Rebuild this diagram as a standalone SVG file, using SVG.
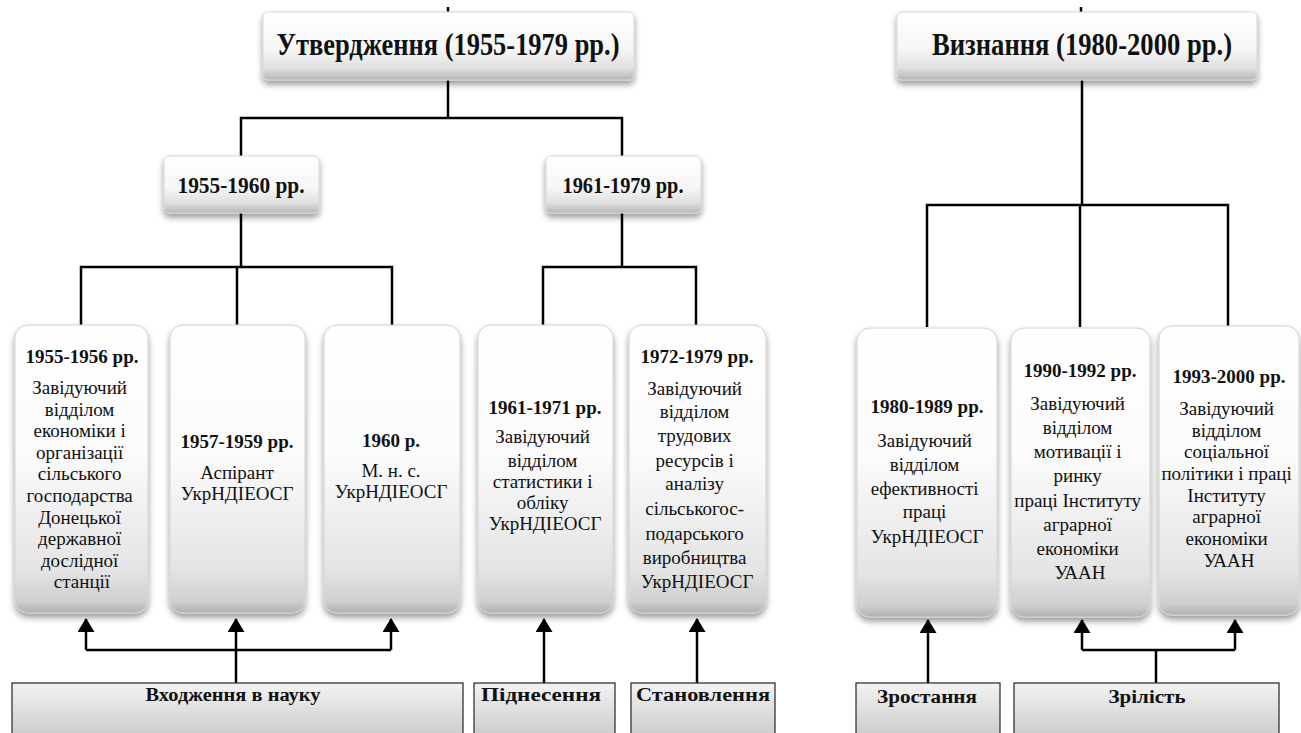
<svg xmlns="http://www.w3.org/2000/svg" width="1301" height="733" viewBox="0 0 1301 733">
<defs>
<style>
.t{font-family:"Liberation Serif","Times New Roman",serif;fill:#111;text-anchor:middle}
.b{font-weight:bold}
.r{font-size:19px}
.d{font-size:19px;font-weight:bold}
.s{font-size:18px;font-weight:bold}
.ln{stroke:#000;stroke-width:2.5;fill:none}
.ar{stroke:#000;stroke-width:2.5;fill:none;marker-end:url(#ah)}
.tall{fill:url(#gt);stroke:#d2d2d2;stroke-width:1;filter:url(#sh)}
.hd{fill:url(#gh);stroke:#d6d6d6;stroke-width:1;filter:url(#sh)}
.bot{fill:url(#gb);stroke:#333;stroke-width:1.3}
</style>
<linearGradient id="gt" x1="0" y1="0" x2="0" y2="1">
<stop offset="0" stop-color="#ffffff"/>
<stop offset="0.45" stop-color="#fbfbfb"/>
<stop offset="0.85" stop-color="#e4e4e4"/>
<stop offset="0.96" stop-color="#cfcfcf"/>
<stop offset="1" stop-color="#b0b0b0"/>
</linearGradient>
<linearGradient id="gh" x1="0" y1="0" x2="0" y2="1">
<stop offset="0" stop-color="#ffffff"/>
<stop offset="0.55" stop-color="#f6f6f6"/>
<stop offset="0.82" stop-color="#e0e0e0"/>
<stop offset="1" stop-color="#b6b6b6"/>
</linearGradient>
<linearGradient id="gb" x1="0" y1="0" x2="0" y2="1">
<stop offset="0" stop-color="#f3f3f3"/>
<stop offset="1" stop-color="#c6c6c6"/>
</linearGradient>
<filter id="sh" x="-10%" y="-10%" width="120%" height="130%">
<feDropShadow dx="0" dy="4" stdDeviation="3" flood-color="#000" flood-opacity="0.4"/>
</filter>
<marker id="ah" viewBox="0 0 14 17" refX="13" refY="8.5" markerWidth="14" markerHeight="17" markerUnits="userSpaceOnUse" orient="auto">
<path d="M0,0 L14,8.5 L0,17 z" fill="#000"/>
</marker>
</defs>

<g id="connectors">
<line class="ln" x1="448" y1="7" x2="448" y2="12" stroke-width="1.5"/>
<line class="ln" x1="1081" y1="7" x2="1081" y2="12" stroke-width="1.5"/>
<path class="ln" d="M448,80 V118 M241,156 V118 H622 V156"/>
<path class="ln" d="M241,213 V267 M81,325 V267 H392 V325 M237,267 V325"/>
<path class="ln" d="M622,213 V267 M543,325 V267 H696 V325"/>
<path class="ln" d="M1082,80 V205 M927,327 V205 H1228 V327 M1080,205 V327"/>
<path class="ln" d="M86,650 H391"/>
<line class="ar" x1="86" y1="650" x2="86" y2="619"/>
<line class="ar" x1="236" y1="683" x2="236" y2="619"/>
<line class="ar" x1="391" y1="650" x2="391" y2="619"/>
<line class="ar" x1="544" y1="683" x2="544" y2="619"/>
<line class="ar" x1="697" y1="683" x2="697" y2="619"/>
<line class="ar" x1="928" y1="683" x2="928" y2="620"/>
<path class="ln" d="M1156,683 V650 M1082,650 H1235" stroke-width="2"/>
<line class="ar" x1="1082" y1="650" x2="1082" y2="620"/>
<line class="ar" x1="1235" y1="650" x2="1235" y2="620"/>
</g>

<g id="top-left">
<rect class="hd" x="263" y="12" width="371" height="68" rx="5"/>
<text class="t b" x="448" y="55" font-size="31" textLength="343" lengthAdjust="spacingAndGlyphs">Утвердження (1955-1979 рр.)</text>
</g>
<g id="top-right">
<rect class="hd" x="897" y="12" width="360" height="68" rx="5"/>
<text class="t b" x="1082" y="55" font-size="31" textLength="300" lengthAdjust="spacingAndGlyphs">Визнання (1980-2000 рр.)</text>
</g>
<g id="mid-1">
<rect class="hd" x="164" y="156" width="155" height="57" rx="5"/>
<text class="t b" x="241" y="193" font-size="24" textLength="127" lengthAdjust="spacingAndGlyphs">1955-1960 рр.</text>
</g>
<g id="mid-2">
<rect class="hd" x="546" y="156" width="155" height="57" rx="5"/>
<text class="t b" x="623" y="193" font-size="24" textLength="121" lengthAdjust="spacingAndGlyphs">1961-1979 рр.</text>
</g>

<g id="box-1955-1956">
<rect class="tall" x="15" y="325" width="133" height="288" rx="13"/>
<text class="t d" x="82" y="363">1955-1956 рр.</text>
<text class="t r">
<tspan x="82" y="394">Завідуючий</tspan>
<tspan x="82" y="416">відділом</tspan>
<tspan x="82" y="437">економіки і</tspan>
<tspan x="82" y="459">організації</tspan>
<tspan x="82" y="480">сільського</tspan>
<tspan x="82" y="502">господарства</tspan>
<tspan x="82" y="524">Донецької</tspan>
<tspan x="82" y="545">державної</tspan>
<tspan x="82" y="567">дослідної</tspan>
<tspan x="82" y="588">станції</tspan>
</text>
</g>
<g id="box-1957-1959">
<rect class="tall" x="170" y="325" width="135" height="288" rx="13"/>
<text class="t d" x="237" y="448">1957-1959 рр.</text>
<text class="t r"><tspan x="237" y="479">Аспірант</tspan><tspan x="237" y="500">УкрНДІЕОСГ</tspan></text>
</g>
<g id="box-1960">
<rect class="tall" x="324" y="325" width="136" height="288" rx="13"/>
<text class="t d" x="391" y="447">1960 р.</text>
<text class="t r"><tspan x="391" y="477">М. н. с.</tspan><tspan x="391" y="498">УкрНДІЕОСГ</tspan></text>
</g>
<g id="box-1961-1971">
<rect class="tall" x="478" y="325" width="135" height="288" rx="13"/>
<text class="t d" x="545" y="414">1961-1971 рр.</text>
<text class="t r">
<tspan x="545" y="443">Завідуючий</tspan>
<tspan x="545" y="467">відділом</tspan>
<tspan x="545" y="488">статистики і</tspan>
<tspan x="545" y="509">обліку</tspan>
<tspan x="545" y="530">УкрНДІЕОСГ</tspan>
</text>
</g>
<g id="box-1972-1979">
<rect class="tall" x="629" y="325" width="137" height="288" rx="13"/>
<text class="t d" x="697" y="363">1972-1979 рр.</text>
<text class="t r">
<tspan x="697" y="395">Завідуючий</tspan>
<tspan x="697" y="418">відділом</tspan>
<tspan x="697" y="442">трудових</tspan>
<tspan x="697" y="467">ресурсів і</tspan>
<tspan x="697" y="490">аналізу</tspan>
<tspan x="697" y="515">сільськогос-</tspan>
<tspan x="697" y="540">подарського</tspan>
<tspan x="697" y="564">виробництва</tspan>
<tspan x="697" y="588">УкрНДІЕОСГ</tspan>
</text>
</g>
<g id="box-1980-1989">
<rect class="tall" x="857" y="328" width="140" height="289" rx="13"/>
<text class="t d" x="927" y="413">1980-1989 рр.</text>
<text class="t r">
<tspan x="927" y="447">Завідуючий</tspan>
<tspan x="927" y="471">відділом</tspan>
<tspan x="927" y="495">ефективності</tspan>
<tspan x="927" y="518">праці</tspan>
<tspan x="927" y="543">УкрНДІЕОСГ</tspan>
</text>
</g>
<g id="box-1990-1992">
<rect class="tall" x="1011" y="328" width="139" height="289" rx="13"/>
<text class="t d" x="1080" y="377">1990-1992 рр.</text>
<text class="t r">
<tspan x="1080" y="410">Завідуючий</tspan>
<tspan x="1080" y="434">відділом</tspan>
<tspan x="1080" y="458">мотивації і</tspan>
<tspan x="1080" y="482">ринку</tspan>
<tspan x="1080" y="507">праці Інституту</tspan>
<tspan x="1080" y="531">аграрної</tspan>
<tspan x="1080" y="555">економіки</tspan>
<tspan x="1080" y="579">УААН</tspan>
</text>
</g>
<g id="box-1993-2000">
<rect class="tall" x="1159" y="326" width="140" height="289" rx="13"/>
<text class="t d" x="1229" y="383">1993-2000 рр.</text>
<text class="t r">
<tspan x="1229" y="415">Завідуючий</tspan>
<tspan x="1229" y="437">відділом</tspan>
<tspan x="1229" y="458">соціальної</tspan>
<tspan x="1229" y="480">політики і праці</tspan>
<tspan x="1229" y="502">Інституту</tspan>
<tspan x="1229" y="523">аграрної</tspan>
<tspan x="1229" y="545">економіки</tspan>
<tspan x="1229" y="567">УААН</tspan>
</text>
</g>

<g id="stage-vkhodzhennia">
<rect class="bot" x="12" y="683" width="451" height="60"/>
<text class="t s" x="233" y="701" textLength="175" lengthAdjust="spacingAndGlyphs">Входження в науку</text>
</g>
<g id="stage-pidnesennia">
<rect class="bot" x="474" y="683" width="141" height="60"/>
<text class="t s" x="541" y="701" textLength="120" lengthAdjust="spacingAndGlyphs">Піднесення</text>
</g>
<g id="stage-stanovlennia">
<rect class="bot" x="631" y="683" width="144" height="60"/>
<text class="t s" x="703" y="701" textLength="134" lengthAdjust="spacingAndGlyphs">Становлення</text>
</g>
<g id="stage-zrostannia">
<rect class="bot" x="856" y="683" width="144" height="60"/>
<text class="t s" x="927" y="703" textLength="100" lengthAdjust="spacingAndGlyphs">Зростання</text>
</g>
<g id="stage-zrilist">
<rect class="bot" x="1014" y="683" width="265" height="60"/>
<text class="t s" x="1147" y="703" textLength="77" lengthAdjust="spacingAndGlyphs">Зрілість</text>
</g>
</svg>
